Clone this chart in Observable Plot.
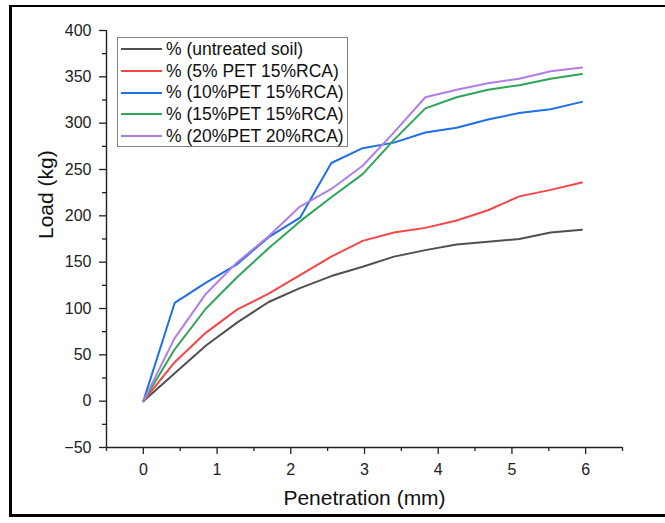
<!DOCTYPE html>
<html>
<head>
<meta charset="utf-8">
<script src="https://cdn.jsdelivr.net/npm/d3@7"></script>
<script src="https://cdn.jsdelivr.net/npm/@observablehq/plot@0.6"></script>
<style>
  body { margin: 0; background: #fff; font-family: "Liberation Sans", Arial, sans-serif; }
  #wrap { position: relative; width: 665px; height: 523px; overflow: hidden; background: #fff; }
  #frame { position: absolute; left: 9px; top: 5px; width: 720px; height: 507px;
           border-left: 3px solid #000; border-top: 2px solid #000; border-bottom: 3px solid #000; }
  #chart { position: absolute; left: 0; top: 0; }
  #legend { position: absolute; left: 117px; top: 37px; width: 229px; height: 108px;
            border: 1px solid #808080; background: #fff; }
  .row { position: absolute; left: 0; height: 22px; display: flex; align-items: center; white-space: nowrap; }
  .sw { width: 41px; height: 0; border-top: 2px solid; margin-left: 3px; margin-right: 4px; }
  .lab { font-size: 17.5px; color: #111; letter-spacing: 0px; }
</style>
</head>
<body>
<div id="wrap">
  <div id="frame"></div>
  <div id="chart"></div>
  <div id="legend"></div>
</div>
<script>
// ---- data ----
const penetration = [0, 0.425, 0.85, 1.275, 1.7, 2.125, 2.55, 2.975, 3.4, 3.825, 4.25, 4.675, 5.1, 5.525, 5.95];
const seriesNames = ["% (untreated soil)", "% (5% PET 15%RCA)", "% (10%PET 15%RCA)", "% (15%PET 15%RCA)", "% (20%PET 20%RCA)"];
const untreated = [0, 30, 60, 85, 107, 122, 135, 145, 156, 163, 169, 172, 175, 182, 185];
const pet5 = [0, 42, 74, 99, 116, 136, 156, 173, 182, 187, 195, 206, 221, 228, 236];
const pet10 = [0, 106, 128, 148, 177, 198, 257, 273, 279, 290, 295, 304, 311, 315, 323];
const pet15 = [0, 56, 100, 134, 165, 194, 220, 245, 282, 316, 328, 336, 341, 348, 353];
const pet20 = [0, 68, 116, 150, 178, 210, 229, 254, 290, 328, 336, 343, 348, 356, 360];
const seriesColors = ["#505050", "#f54545", "#1f6fe8", "#2ea65a", "#b07ee6"];
const xTicks = [0, 1, 2, 3, 4, 5, 6];
const xMinorTicks = [-0.5, 0.5, 1.5, 2.5, 3.5, 4.5, 5.5, 6.5];
const yTicks = [-50, 0, 50, 100, 150, 200, 250, 300, 350, 400];
const yMinorTicks = [-25, 25, 75, 125, 175, 225, 275, 325, 375];
const xTitle = "Penetration (mm)";
const yTitle = "Load (kg)";

const allValues = [untreated, pet5, pet10, pet15, pet20];
const rows = [];
allValues.forEach((vals, i) => vals.forEach((v, j) => rows.push({x: penetration[j], y: v, series: seriesNames[i]})));

const axisColor = "#222";
const chart = Plot.plot({
  width: 665,
  height: 523,
  marginLeft: 106,
  marginRight: 43,
  marginTop: 30,
  marginBottom: 76,
  x: {domain: [-0.5, 6.5]},
  y: {domain: [-50, 400]},
  color: {domain: seriesNames, range: seriesColors},
  style: {fontFamily: "'Liberation Sans', Arial, sans-serif", fontSize: "16px", color: axisColor, background: "transparent", overflow: "visible"},
  marks: [
    Plot.axisX({ticks: xMinorTicks, tickSize: 4, tickFormat: () => "", label: null, strokeWidth: 1.3}),
    Plot.axisX({ticks: xTicks, tickSize: 7, tickPadding: 9, tickFormat: d => String(d), label: null, strokeWidth: 1.3}),
    Plot.axisY({ticks: yMinorTicks, tickSize: 4, tickFormat: () => "", label: null, strokeWidth: 1.3}),
    Plot.axisY({ticks: yTicks, tickSize: 7, tickPadding: 8, tickFormat: d => d < 0 ? "\u2212" + Math.abs(d) : String(d), label: null, strokeWidth: 1.3}),
    Plot.ruleY([-50], {stroke: axisColor, strokeWidth: 1.4}),
    Plot.ruleX([-0.5], {stroke: axisColor, strokeWidth: 1.4}),
    Plot.line(rows, {x: "x", y: "y", z: "series", stroke: "series", strokeWidth: 2}),
    Plot.text([xTitle], {text: d => d, frameAnchor: "bottom", dy: 57, fontSize: 21, fill: "#111"}),
    Plot.text([yTitle], {text: d => d, frameAnchor: "left", dx: -60, rotate: -90, fontSize: 21, fill: "#111"})
  ]
});
document.getElementById("chart").appendChild(chart);

// legend
const legend = document.getElementById("legend");
seriesNames.forEach((name, i) => {
  const r = document.createElement("div");
  r.className = "row";
  r.style.top = (0.3 + 21.7 * i) + "px";
  const sw = document.createElement("div");
  sw.className = "sw";
  sw.style.borderTopColor = seriesColors[i];
  const lab = document.createElement("span");
  lab.className = "lab";
  lab.textContent = name;
  r.appendChild(sw);
  r.appendChild(lab);
  legend.appendChild(r);
});
</script>
</body>
</html>
